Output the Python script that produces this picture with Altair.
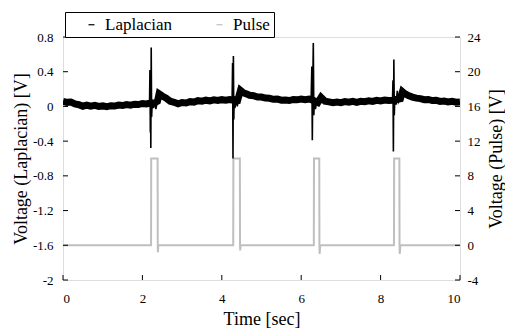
import altair as alt
import pandas as pd

FONT = "Times New Roman, Liberation Serif, DejaVu Serif, serif"
W, H = 397, 243

# ---- Laplacian: centre of the noisy baseline band (V) ----
base_t = [0.0, 0.1, 0.2, 0.3, 0.4, 0.5, 0.6, 0.7, 0.8, 0.9, 1.0, 1.1, 1.2, 1.3, 1.4, 1.5, 1.6, 1.7,
          1.8, 1.9, 2.0, 2.1, 2.18, 2.3, 2.38, 2.42, 2.5, 2.6, 2.7, 2.8, 2.9, 3.0, 3.1, 3.2, 3.3,
          3.4, 3.5, 3.6, 3.7, 3.8, 3.9, 4.0, 4.1, 4.2, 4.26, 4.4, 4.47, 4.55, 4.6, 4.7, 4.8, 4.9,
          5.0, 5.1, 5.2, 5.3, 5.4, 5.5, 5.6, 5.7, 5.8, 5.9, 6.0, 6.1, 6.2, 6.25, 6.42, 6.5, 6.6,
          6.7, 6.8, 6.9, 7.0, 7.1, 7.2, 7.3, 7.4, 7.5, 7.6, 7.7, 7.8, 7.9, 8.0, 8.1, 8.2, 8.3,
          8.5, 8.55, 8.6, 8.7, 8.8, 8.9, 9.0, 9.1, 9.2, 9.3, 9.4, 9.5, 9.6, 9.7, 9.8, 9.9, 10.0]
base_v = [0.058, 0.047, 0.05, 0.028, 0.02, 0.002, 0.014, 0.004, 0.012, 0.0, 0.006, -0.004, 0.008,
          0.004, 0.016, 0.01, 0.022, 0.015, 0.026, 0.022, 0.034, 0.028, 0.036, 0.04, 0.06, 0.145,
          0.12, 0.095, 0.06, 0.048, 0.03, 0.045, 0.04, 0.055, 0.05, 0.066, 0.06, 0.072, 0.064,
          0.076, 0.068, 0.078, 0.072, 0.08, 0.075, 0.07, 0.185, 0.155, 0.148, 0.128, 0.124, 0.108,
          0.108, 0.096, 0.094, 0.082, 0.084, 0.072, 0.074, 0.068, 0.08, 0.076, 0.084, 0.078, 0.084,
          0.08, 0.045, 0.105, 0.06, 0.052, 0.042, 0.05, 0.044, 0.056, 0.048, 0.058, 0.046, 0.06,
          0.054, 0.064, 0.058, 0.07, 0.064, 0.074, 0.068, 0.072, 0.09, 0.17, 0.15, 0.125, 0.108,
          0.096, 0.09, 0.078, 0.08, 0.068, 0.07, 0.058, 0.062, 0.052, 0.058, 0.048, 0.052]

# ---- Laplacian: spikes ----
spike_id = [1] * 12 + [2] * 10 + [3] * 10 + [4] * 10
spike_t = [2.18, 2.19, 2.2, 2.205, 2.212, 2.222, 2.232, 2.25, 2.28, 2.31, 2.34, 2.37,
           4.26, 4.272, 4.282, 4.292, 4.302, 4.315, 4.33, 4.36, 4.39, 4.42,
           6.25, 6.268, 6.28, 6.292, 6.305, 6.318, 6.335, 6.36, 6.39, 6.42,
           8.3, 8.312, 8.322, 8.334, 8.345, 8.36, 8.39, 8.42, 8.45, 8.5]
spike_v = [0.035, 0.42, -0.3, 0.3, -0.48, 0.68, -0.12, 0.08, -0.02, 0.06, -0.03, 0.05,
           0.075, 0.5, -0.6, 0.58, -0.15, 0.12, -0.02, 0.08, 0.0, 0.07,
           0.08, 0.46, -0.39, 0.25, 0.73, -0.1, 0.1, -0.03, 0.07, 0.045,
           0.07, 0.3, -0.52, 0.54, -0.1, 0.12, 0.02, 0.18, 0.05, 0.09]

# ---- Pulse (V) ----
pulse_t = [0, 2.218, 2.222, 2.383, 2.387, 2.392, 2.40, 4.288, 4.292, 4.455, 4.459, 4.464, 4.475,
           6.318, 6.322, 6.455, 6.459, 6.464, 6.48, 8.337, 8.341, 8.473, 8.477, 8.482, 8.50, 10]
pulse_v = [0, 0, 10, 10, 0, -0.8, 0, 0, 10, 10, 0, -0.6, 0,
           0, 10, 10, 0, -1.0, 0, 0, 10, 10, 0, -1.0, 0, 0]

# ---- tick values ----
lap_ticks = [-2, -1.6, -1.2, -0.8, -0.4, 0, 0.4, 0.8]
pulse_ticks = [-4, 0, 4, 8, 12, 16, 20, 24]
time_ticks = [0, 2, 4, 6, 8, 10]
series = ["Laplacian", "Pulse"]

base_df = pd.DataFrame({"t": base_t, "v": base_v, "i": range(len(base_t))})
spike_df = pd.DataFrame({"t": spike_t, "v": spike_v, "g": spike_id, "s": series[0],
                         "i": range(len(spike_t))})
pulse_df = pd.DataFrame({"t": pulse_t, "v": pulse_v, "s": series[1], "i": range(len(pulse_t))})

x_scale = alt.Scale(domain=[0, 10], nice=False, zero=False)
lap_scale = alt.Scale(domain=[-2, 0.8], nice=False, zero=False)
pulse_scale = alt.Scale(domain=[-4, 24], nice=False, zero=False)
color_scale = alt.Scale(domain=series, range=["#000000", "#bfbfbf"])

legend = alt.Legend(orient="none", legendX=2, legendY=-25, direction="horizontal", title=None,
                    strokeColor="black", fillColor="white", padding=4, symbolType="stroke",
                    symbolSize=36, symbolStrokeWidth=1.2, labelFont=FONT, labelFontSize=17,
                    labelColor="black", columnPadding=24, labelOffset=5, symbolOffset=14)

x_axis = alt.Axis(orient="bottom", values=time_ticks, ticks=False, tickSize=0, domain=False, grid=False,
                  labelFont=FONT, labelFontSize=13, labelColor="black", labelPadding=12,
                  title="Time [sec]", titleFont=FONT, titleFontSize=18, titleFontWeight="normal",
                  titleColor="black", titleBaseline="alphabetic", titleX=W / 2, titleY=44,
                  labelExpr="toString(datum.value)")

lap_axis = alt.Axis(orient="left", values=lap_ticks, ticks=False, tickSize=0, domain=False, grid=False,
                    labelFont=FONT, labelFontSize=13, labelColor="black", labelPadding=10,
                    title="Voltage (Laplacian) [V]", titleFont=FONT, titleFontSize=18,
                    titleFontWeight="normal", titleColor="black", titleX=-42, titleY=H / 2,
                    titleAngle=270, titleBaseline="middle", titleAlign="center",
                    labelExpr="toString(datum.value)")

pulse_axis = alt.Axis(orient="right", values=pulse_ticks, ticks=False, tickSize=0, domain=False, grid=False,
                      labelFont=FONT, labelFontSize=13, labelColor="black", labelPadding=7,
                      title="Voltage (Pulse) [V]", titleFont=FONT, titleFontSize=18,
                      titleFontWeight="normal", titleColor="black", titleX=36, titleY=H / 2,
                      titleAngle=270, titleBaseline="middle", titleAlign="center",
                      labelExpr="toString(datum.value)")

X = alt.X("t:Q", scale=x_scale, axis=x_axis)

pulse_layer = alt.Chart(pulse_df).mark_line(strokeWidth=2, clip=True).encode(
    x=X,
    y=alt.Y("v:Q", scale=pulse_scale, axis=pulse_axis),
    color=alt.Color("s:N", scale=color_scale, legend=legend),
    order=alt.Order("i:Q"),
)

base_layer = alt.Chart(base_df).mark_line(color="black", strokeWidth=7, strokeJoin="miter",
                                          strokeCap="butt", clip=True).encode(
    x=X,
    y=alt.Y("v:Q", scale=lap_scale, axis=lap_axis),
    order=alt.Order("i:Q"),
)

spike_layer = alt.Chart(spike_df).mark_line(strokeWidth=1.6, clip=True).encode(
    x=X,
    y=alt.Y("v:Q", scale=lap_scale, axis=None),
    color=alt.Color("s:N", scale=color_scale, legend=legend),
    detail="g:N",
    order=alt.Order("i:Q"),
)

lap_tick_layer = alt.Chart(pd.DataFrame({"v": lap_ticks})).mark_rule(color="black", strokeWidth=1).encode(
    y=alt.Y("v:Q", scale=lap_scale, axis=None), x=alt.value(0), x2=alt.value(5))
pulse_tick_layer = alt.Chart(pd.DataFrame({"v": pulse_ticks})).mark_rule(color="black", strokeWidth=1).encode(
    y=alt.Y("v:Q", scale=pulse_scale, axis=None), x=alt.value(W - 5), x2=alt.value(W))
time_tick_layer = alt.Chart(pd.DataFrame({"t": time_ticks})).mark_rule(color="black", strokeWidth=1).encode(
    x=X, y=alt.value(H), y2=alt.value(H - 5))

chart = alt.layer(
    pulse_layer, base_layer, spike_layer, lap_tick_layer, pulse_tick_layer, time_tick_layer
).resolve_scale(y="independent").properties(
    width=W, height=H, autosize="none",
    padding={"left": 63, "top": 37, "right": 45, "bottom": 48},
).configure_view(stroke="black", strokeWidth=1.5).configure(background="white")

chart.save("out.html", embed_options={"renderer": "svg", "actions": False})
